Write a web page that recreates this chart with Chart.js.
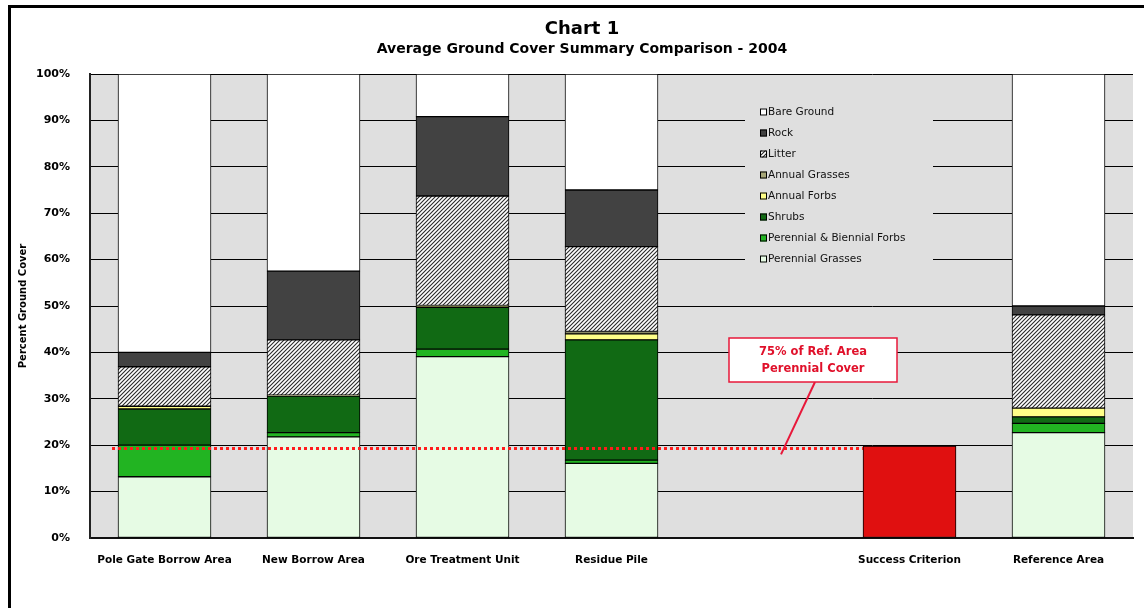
<!DOCTYPE html>
<html>
<head>
<meta charset="utf-8">
<script src="https://cdn.jsdelivr.net/npm/chart.js@4.4.1/dist/chart.umd.min.js"></script>
<style>
  html, body { margin: 0; padding: 0; background: #fff; overflow: hidden; }
  #wrap { position: relative; width: 1144px; height: 608px; }
  canvas { display: block; }
</style>
</head>
<body>
<div id="wrap"><canvas id="c" width="1144" height="608"></canvas></div>
<script>
// Site categories (blank slot separates monitored sites from the criterion)
const categories = ['Pole Gate Borrow Area', 'New Borrow Area', 'Ore Treatment Unit', 'Residue Pile', '', 'Success Criterion', 'Reference Area'];

// Average ground cover (%) per cover class, bottom of stack first
const perennialGrasses       = [13.2, 21.8, 39.1, 16.1, null, null, 22.7];
const perennialBiennialForbs = [6.8, 0.9, 1.6, 0.7, null, null, 2.0];
const shrubs                 = [7.8, 7.9, 9.0, 25.9, null, null, 1.4];
const annualForbs            = [0.6, null, 0.2, 1.3, null, null, 1.9];
const annualGrasses          = [null, 0.2, 0.2, 0.5, null, null, null];
const litter                 = [8.5, 11.9, 23.6, 18.3, null, null, 20.1];
const rock                   = [3.1, 14.8, 17.1, 12.2, null, null, 1.9];
const bareGround             = [60.0, 42.5, 9.2, 25.0, null, null, 50.0];

// Revegetation success criterion and its reference line
const successCriterion = [null, null, null, null, null, 19.8, null];
const criterionLine = 19.3;
const criterionNote = ['75% of Ref. Area', 'Perennial Cover'];

const yTicks = [0, 10, 20, 30, 40, 50, 60, 70, 80, 90, 100];

const FONT = "'DejaVu Sans', Verdana, sans-serif";
const PLOT_BG = '#dfdfdf';

// diagonal hatch used for litter
function hatchPattern() {
  const s = 4;
  const c = document.createElement('canvas');
  c.width = s; c.height = s;
  const g = c.getContext('2d');
  g.fillStyle = '#ffffff';
  g.fillRect(0, 0, s, s);
  g.strokeStyle = '#2a2a2a';
  g.lineWidth = 1.1;
  g.beginPath();
  g.moveTo(-1, s + 1); g.lineTo(s + 1, -1);
  g.moveTo(-1, 1); g.lineTo(1, -1);
  g.moveTo(s - 1, s + 1); g.lineTo(s + 1, s - 1);
  g.stroke();
  return g.createPattern(c, 'repeat');
}
const hatch = hatchPattern();

function ds(label, data, color, legendOrder) {
  return {
    label, data, backgroundColor: color, borderColor: '#000', borderWidth: 1,
    borderSkipped: false, stack: 's', legendOrder
  };
}

const datasets = [
  ds('Perennial Grasses', perennialGrasses, '#e6fbe4', 7),
  ds('Perennial & Biennial Forbs', perennialBiennialForbs, '#22b422', 6),
  ds('Shrubs', shrubs, '#116a14', 5),
  ds('Annual Forbs', annualForbs, '#ffff88', 4),
  ds('Annual Grasses', annualGrasses, '#a8a878', 3),
  ds('Litter', litter, hatch, 2),
  ds('Rock', rock, '#424242', 1),
  ds('Bare Ground', bareGround, '#ffffff', 0),
  ds('Success Criterion', successCriterion, '#e01010', -1)
];

// frame, titles and plot background
const backdrop = {
  id: 'backdrop',
  beforeDraw(chart) {
    const { ctx, chartArea: a } = chart;
    ctx.save();
    ctx.fillStyle = '#fff';
    ctx.fillRect(0, 0, chart.width, chart.height);
    ctx.fillStyle = PLOT_BG;
    ctx.fillRect(a.left, a.top, a.right - a.left, a.bottom - a.top);
    ctx.fillStyle = '#000';
    ctx.fillRect(8, 5, 3, chart.height - 5);
    ctx.fillRect(8, 5, chart.width - 8, 3);
    ctx.textAlign = 'center';
    ctx.textBaseline = 'middle';
    ctx.font = 'bold 18px ' + FONT;
    ctx.fillText('Chart 1', 582, 29);
    ctx.font = 'bold 14px ' + FONT;
    ctx.fillText('Average Ground Cover Summary Comparison - 2004', 582, 49);
    ctx.restore();
  }
};

// legend panel in the empty slot, top entry = top of stack
const legendPanel = {
  id: 'legendPanel',
  beforeDatasetsDraw(chart) {
    const { ctx } = chart;
    const items = chart.data.datasets.filter(d => d.legendOrder >= 0)
      .sort((p, q) => p.legendOrder - q.legendOrder);
    ctx.save();
    ctx.fillStyle = PLOT_BG;
    ctx.fillRect(745, 99, 188, 172);
    ctx.font = '10.5px ' + FONT;
    ctx.textBaseline = 'middle';
    ctx.textAlign = 'left';
    items.forEach((d, i) => {
      const y = 112 + i * 21;
      ctx.fillStyle = d.backgroundColor;
      ctx.fillRect(760, y - 3.5, 7, 7);
      ctx.strokeStyle = '#000';
      ctx.lineWidth = 1;
      ctx.strokeRect(760.5, y - 3, 6, 6);
      ctx.fillStyle = '#111';
      ctx.fillText(d.label, 768, y);
    });
    ctx.restore();
  }
};

// dotted criterion line with its callout
const criterionMark = {
  id: 'criterionMark',
  afterDatasetsDraw(chart) {
    const { ctx, chartArea: a } = chart;
    const yS = chart.scales.y;
    const y = yS.getPixelForValue(criterionLine);
    const meta = chart.getDatasetMeta(chart.data.datasets.length - 1);
    const bar = meta.data[5];
    const xEnd = bar.x - bar.width / 2;
    ctx.save();
    ctx.strokeStyle = '#ff1c1c';
    ctx.lineWidth = 3;
    ctx.setLineDash([3, 3]);
    ctx.beginPath();
    ctx.moveTo(a.left + 22, y);
    ctx.lineTo(xEnd, y);
    ctx.stroke();
    ctx.setLineDash([]);
    // callout leader
    ctx.strokeStyle = '#e8183a';
    ctx.lineWidth = 2;
    ctx.beginPath();
    ctx.moveTo(815, 382);
    ctx.lineTo(781, y + 6);
    ctx.stroke();
    // callout box
    ctx.fillStyle = '#fff';
    ctx.fillRect(729, 338, 168, 44);
    ctx.lineWidth = 1.5;
    ctx.strokeRect(729, 338, 168, 44);
    ctx.fillStyle = '#e0102a';
    ctx.font = 'bold 11.5px ' + FONT;
    ctx.textAlign = 'center';
    ctx.textBaseline = 'middle';
    ctx.fillText(criterionNote[0], 813, 352);
    ctx.fillText(criterionNote[1], 813, 369);
    ctx.restore();
  }
};

new Chart(document.getElementById('c'), {
  type: 'bar',
  data: { labels: categories, datasets },
  options: {
    responsive: false,
    animation: false,
    layout: { padding: { top: 74, right: 11, left: 0, bottom: 0 } },
    plugins: { legend: { display: false }, tooltip: { enabled: false }, title: { display: false } },
    datasets: { bar: { categoryPercentage: 1, barThickness: 93 } },
    scales: {
      x: {
        stacked: true,
        grid: { display: false },
        border: { display: true, color: '#111', width: 2 },
        ticks: { color: '#000', font: { family: FONT, weight: 'bold', size: 10.5 }, padding: 8, maxRotation: 0, autoSkip: false },
        afterFit(s) { s.height = 70; }
      },
      y: {
        stacked: true,
        min: 0, max: 100,
        afterBuildTicks(s) { s.ticks = yTicks.map(v => ({ value: v })); },
        grid: { color: '#000', lineWidth: 1, drawTicks: false },
        border: { display: true, color: '#222', width: 2 },
        ticks: { color: '#000', padding: 20, font: { family: FONT, weight: 'bold', size: 11 }, callback: v => v + '%' },
        title: { display: true, text: 'Percent Ground Cover', color: '#000', font: { family: FONT, weight: 'bold', size: 10 }, padding: { top: 17, bottom: 0 } },
        afterFit(s) { s.width = 90; }
      }
    }
  },
  plugins: [backdrop, legendPanel, criterionMark]
});
</script>
</body>
</html>
